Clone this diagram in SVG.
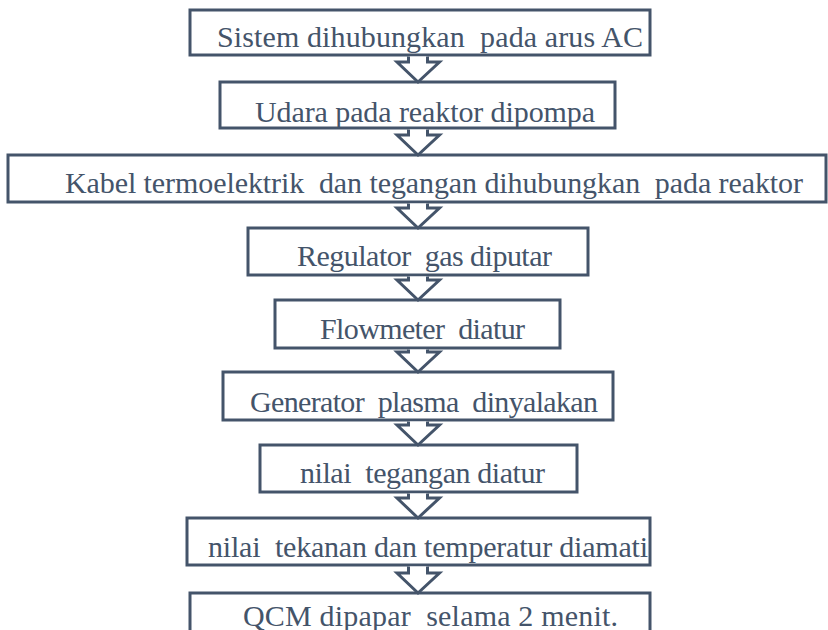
<svg xmlns="http://www.w3.org/2000/svg" width="828" height="630" viewBox="0 0 828 630">
<style>
.box{fill:#ffffff;stroke:#44546A;stroke-width:3}
.arr{fill:#ffffff;stroke:#44546A;stroke-width:3;stroke-linejoin:miter}
text{font-family:'Liberation Serif','Times New Roman','DejaVu Serif',serif;font-size:30px;fill:#44546A}
</style>
<rect width="828" height="630" fill="#ffffff"/>
<g id="n1"><rect class="box" x="190" y="10" width="460" height="45"/><text xml:space="preserve" x="217" y="47" textLength="426" lengthAdjust="spacing">Sistem dihubungkan  pada arus AC</text></g>
<g id="n2"><rect class="box" x="220" y="82" width="395" height="46"/><text xml:space="preserve" x="255" y="122" textLength="340" lengthAdjust="spacing">Udara pada reaktor dipompa</text></g>
<g id="n3"><rect class="box" x="8" y="155" width="818" height="47"/><text xml:space="preserve" x="65" y="193" textLength="738" lengthAdjust="spacing">Kabel termoelektrik  dan tegangan dihubungkan  pada reaktor</text></g>
<g id="n4"><rect class="box" x="248" y="228" width="340" height="47"/><text xml:space="preserve" x="297" y="266" textLength="255" lengthAdjust="spacing">Regulator  gas diputar</text></g>
<g id="n5"><rect class="box" x="275" y="300" width="285" height="48"/><text xml:space="preserve" x="320" y="339" textLength="205" lengthAdjust="spacing">Flowmeter  diatur</text></g>
<g id="n6"><rect class="box" x="223" y="372" width="390" height="48"/><text xml:space="preserve" x="250" y="412" textLength="348" lengthAdjust="spacing">Generator  plasma  dinyalakan</text></g>
<g id="n7"><rect class="box" x="260" y="445" width="317" height="47"/><text xml:space="preserve" x="300" y="483" textLength="245" lengthAdjust="spacing">nilai  tegangan diatur</text></g>
<g id="n8"><rect class="box" x="187" y="518" width="463" height="47"/><text xml:space="preserve" x="208" y="557" textLength="440" lengthAdjust="spacing">nilai  tekanan dan temperatur diamati</text></g>
<g id="n9"><rect class="box" x="190" y="593" width="460" height="60"/><text xml:space="preserve" x="243" y="626" textLength="375" lengthAdjust="spacing">QCM dipapar  selama 2 menit.</text></g>
<g id="connectors">
<path class="arr" d="M408.5,56.5 V62 H397 L418,82 L439.5,62 H427.5 V56.5"/>
<path class="arr" d="M408.5,129.5 V135 H397 L418,155 L439.5,135 H427.5 V129.5"/>
<path class="arr" d="M408.5,203.5 V208 H397 L418,228 L439.5,208 H427.5 V203.5"/>
<path class="arr" d="M408.5,276.5 V280 H397 L418,300 L439.5,280 H427.5 V276.5"/>
<path class="arr" d="M408.5,349.5 V352 H397 L418,372 L439.5,352 H427.5 V349.5"/>
<path class="arr" d="M408.5,421.5 V425 H397 L418,445 L439.5,425 H427.5 V421.5"/>
<path class="arr" d="M408.5,493.5 V498 H397 L418,518 L439.5,498 H427.5 V493.5"/>
<path class="arr" d="M408.5,566.5 V573 H397 L418,593 L439.5,573 H427.5 V566.5"/>
</g>
</svg>
